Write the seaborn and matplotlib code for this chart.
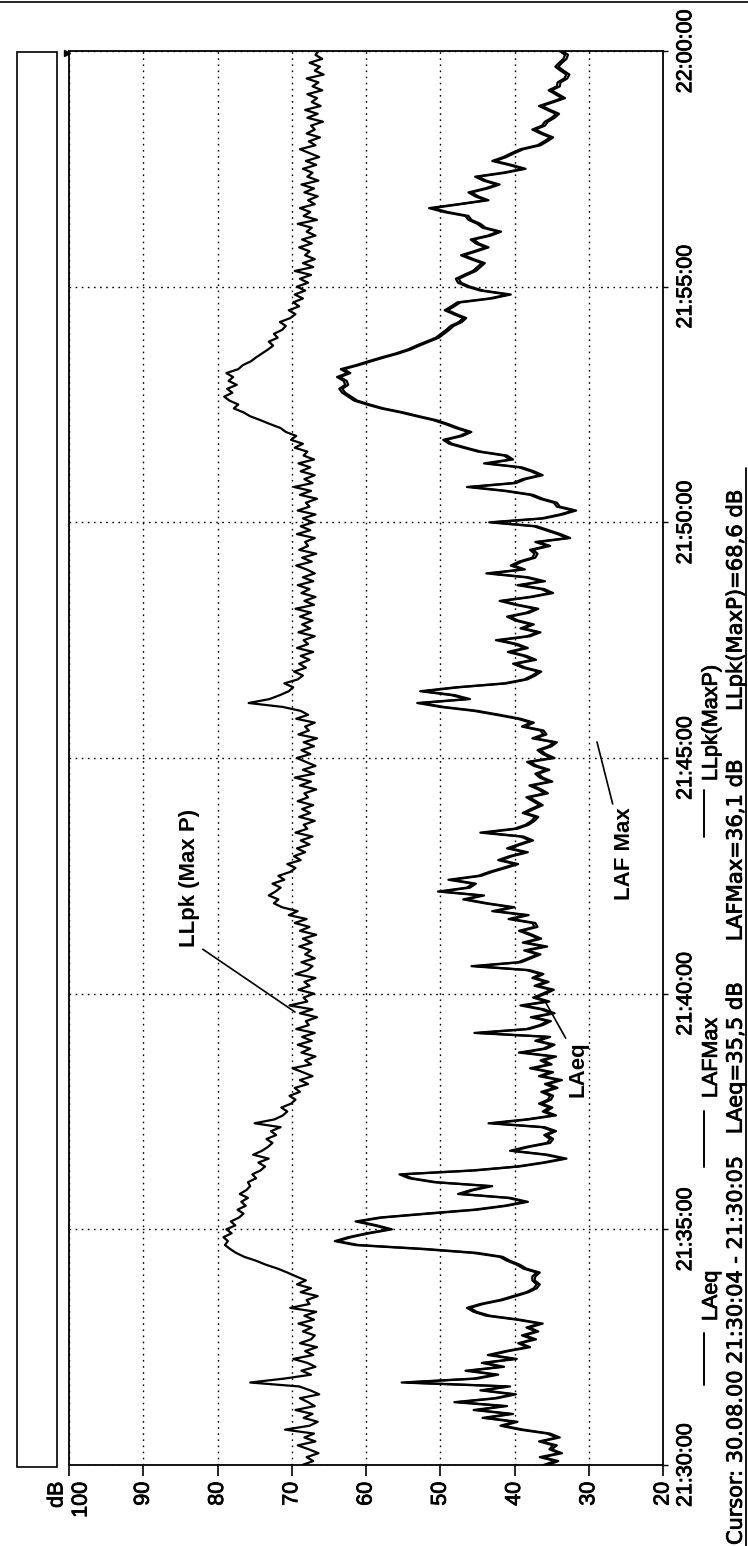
import numpy as np
import pandas as pd
import matplotlib
matplotlib.use("Agg")
import matplotlib.pyplot as plt
import matplotlib.patheffects as pe
from matplotlib.lines import Line2D
from matplotlib.patches import Rectangle
import seaborn as sns

# ---- data: 5-second samples from 21:30:00 to 22:00:00 (dB), one row per minute ----
seconds = list(range(0, 1801, 5))

llpk = [
    68.6, 67.1, 68.0, 66.4, 67.7, 69.2, 66.8, 68.3, 67.0, 70.9, 67.6, 66.5,
    68.4, 67.2, 69.5, 66.9, 67.8, 68.9, 66.3, 67.5, 69.0, 75.6, 71.0, 67.4,
    68.7, 66.8, 67.9, 69.8, 67.1, 68.2, 66.6, 68.9, 67.4, 66.9, 68.5, 67.3,
    69.1, 67.0, 68.3, 66.7, 70.2, 67.6, 68.0, 66.5, 68.8, 67.4, 69.3, 68.1,
    69.4, 70.6, 71.9, 73.5, 74.8, 76.4, 77.5, 78.3, 79.0, 78.6, 79.2, 78.1,
    78.8, 77.6, 78.2, 77.1, 76.5, 77.3, 76.2, 76.8, 75.9, 77.0, 76.1, 75.6,
    75.9, 74.8, 75.3, 74.2, 73.6, 74.5, 73.1, 75.2, 74.0, 73.2, 72.6, 73.4,
    72.1, 72.8, 71.5, 75.0, 72.3, 71.2, 70.6, 71.4, 70.1, 69.5, 70.3, 68.9,
    69.6, 67.8, 68.9, 67.2, 68.5, 69.9, 67.4, 68.2, 66.8, 68.7, 67.5, 69.2,
    67.3, 68.6, 66.9, 69.4, 67.7, 68.1, 66.6, 68.9, 67.2, 70.3, 67.9, 68.4,
    67.0, 69.1, 67.6, 68.3, 66.8, 69.5, 67.9, 67.2, 68.7, 66.9, 68.2, 67.4,
    69.0, 67.3, 68.5, 66.7, 68.9, 67.6, 69.6, 68.0, 70.4, 69.2, 71.3, 72.4,
    71.8, 73.1, 72.2, 71.5, 72.6, 71.0, 71.8, 70.2, 69.5, 70.6, 68.8, 69.7,
    68.2, 69.3, 67.6, 68.8, 67.2, 69.5, 67.9, 68.4, 66.9, 69.0, 67.5, 68.6,
    67.1, 69.2, 67.8, 68.3, 66.7, 68.9, 67.4, 69.6, 67.0, 68.5, 66.8, 68.1,
    69.3, 67.5, 68.7, 67.0, 68.4, 66.6, 69.1, 67.7, 68.2, 66.9, 69.4, 67.8,
    68.8, 71.2, 75.8, 73.0, 71.6, 70.4, 69.8, 71.0, 69.2, 68.5, 69.7, 68.1,
    69.0, 67.6, 68.8, 67.1, 69.3, 67.8, 68.4, 66.9, 69.1, 67.5, 68.6, 67.2,
    68.9, 67.4, 69.5, 67.0, 68.3, 66.8, 68.7, 67.6, 69.2, 67.1, 68.5, 66.9,
    68.0, 69.4, 67.3, 68.6, 66.7, 69.0, 67.8, 68.2, 66.9, 69.3, 67.5, 68.8,
    67.1, 68.5, 66.8, 69.2, 67.6, 68.1, 66.6, 68.9, 67.4, 69.7, 67.2, 68.3,
    66.9, 68.8, 67.5, 69.1, 67.0, 68.4, 67.9, 69.6, 68.5, 70.1, 69.4, 70.8,
    71.5, 72.9, 74.2, 75.6, 76.5, 77.8, 77.2, 78.4, 79.1, 78.0, 78.7, 77.4,
    78.5, 77.9, 78.8, 77.2, 76.6, 75.5, 74.8, 74.0, 73.2, 72.5, 73.1, 71.9,
    72.4, 71.3, 70.8, 71.6, 70.2, 69.5, 70.4, 69.0, 69.8, 68.5, 69.6, 68.2,
    69.3, 67.8, 68.9, 67.4, 69.6, 67.1, 68.5, 66.9, 68.2, 67.6, 69.0, 67.3,
    68.6, 66.8, 68.0, 67.3, 69.2, 66.6, 68.4, 67.5, 68.9, 66.9, 67.8, 66.5,
    68.3, 67.0, 68.7, 66.4, 67.9, 67.2, 68.5, 66.7, 68.1, 66.3, 67.6, 68.9,
    66.8, 67.7, 66.2, 68.0, 66.9, 67.4, 65.8, 67.9, 66.5, 68.2, 66.1, 67.3,
    66.6, 67.9, 65.9, 67.2, 66.4, 68.0, 65.7, 66.9, 66.2, 67.6, 65.9, 66.8,
    66.4,
]

laeq = [
    35.5, 34.1, 36.2, 33.6, 35.0, 34.3, 36.4, 33.9, 35.2, 38.8, 41.5, 39.6,
    43.8, 40.2, 45.1, 41.0, 47.6, 42.3, 39.8, 44.2, 40.6, 54.5, 45.0, 42.2,
    46.1, 41.4, 44.0, 39.7, 43.1, 40.8, 37.9, 39.2, 37.1, 38.6, 36.8, 38.0,
    36.2, 39.3, 43.3, 45.1, 46.0, 44.2, 41.6, 39.8, 38.1, 37.0, 36.6, 37.3,
    37.2, 36.6, 38.4, 39.3, 40.6, 41.6, 45.0, 52.0, 61.0, 63.8, 62.0, 59.5,
    56.5, 58.5, 61.0, 57.8, 51.5, 45.0, 41.0, 38.2, 40.5, 47.2, 45.5, 43.0,
    50.5, 53.8, 55.1, 45.2, 39.3, 35.8, 33.0, 35.5, 40.2, 38.0, 35.2, 34.8,
    35.6, 34.4, 35.9, 42.9, 38.0, 34.4, 35.8, 34.9, 36.3, 35.1, 34.8, 36.0,
    34.2, 35.5, 33.6, 36.3, 34.8, 37.5, 35.0, 36.1, 34.4, 38.9, 35.7, 34.6,
    36.8, 35.2, 44.8, 38.0, 36.2, 35.1, 37.4, 34.6, 36.0, 38.8, 35.3, 37.1,
    35.8, 34.7, 36.9, 35.4, 37.2, 36.1, 38.0, 45.2, 39.1, 37.8, 36.5, 38.3,
    35.6, 38.5, 36.4, 37.6, 39.0, 36.9, 37.2, 40.4, 38.1, 42.5, 40.0, 43.6,
    46.5, 44.1, 49.8, 46.0, 45.2, 48.4, 44.5, 43.0, 41.2, 39.5, 41.8, 40.3,
    38.2, 40.6, 39.1, 37.5, 38.8, 44.0, 39.6, 38.1, 37.3, 36.8, 38.5, 37.4,
    36.2, 37.1, 38.0, 35.5, 36.4, 37.6, 34.9, 36.2, 36.8, 35.3, 37.0, 37.9,
    34.6, 35.8, 36.5, 35.0, 34.3, 37.2, 35.7, 36.1, 38.6, 37.4, 39.2, 42.0,
    45.0, 49.5, 52.6, 46.0, 48.0, 52.2, 47.5, 41.0, 38.3, 37.2, 36.4, 38.5,
    39.8, 37.1, 38.4, 40.5, 38.2, 39.6, 42.0, 37.9, 36.5, 38.8, 37.4, 39.5,
    40.6, 38.0, 36.8, 39.5, 41.6, 37.6, 34.8, 36.0, 39.2, 35.9, 38.1, 43.3,
    38.6, 40.1, 39.0, 37.2, 36.9, 37.5, 35.2, 36.8, 32.5, 33.8, 35.4, 37.0,
    42.9, 36.0, 33.5, 31.7, 33.9, 34.3, 36.2, 37.5, 41.0, 45.9, 39.8, 38.5,
    36.2, 37.4, 39.0, 43.6, 40.2, 41.0, 44.5, 46.5, 48.4, 49.2, 47.0, 45.8,
    47.5, 48.9, 50.5, 52.8, 55.0, 57.6, 59.5, 61.2, 62.0, 62.8, 63.2, 62.4,
    62.6, 63.5, 62.1, 63.0, 61.0, 59.3, 57.5, 55.6, 54.0, 52.8, 51.5, 50.2,
    49.5, 48.8, 48.2, 47.1, 46.5, 47.8, 49.0, 48.1, 47.3, 43.0, 40.5, 44.2,
    46.0, 47.2, 47.5, 46.4, 45.2, 44.6, 44.0, 45.5, 46.8, 45.1, 43.5, 44.8,
    45.5, 43.2, 41.8, 43.9, 44.6, 45.8, 46.2, 49.0, 51.0, 47.2, 43.5, 44.9,
    45.8, 43.6, 42.0, 43.8, 44.9, 41.2, 38.5, 40.4, 42.6, 41.1, 40.0, 38.8,
    36.5, 35.6, 34.8, 36.1, 37.2, 35.9, 35.5, 34.6, 34.0, 35.2, 36.3, 34.7,
    33.2, 34.1, 35.0, 33.9, 33.8, 32.9, 32.6, 33.4, 34.1, 33.6, 33.0, 32.8,
    33.5,
]

lafmax = [
    36.1, 34.5, 36.6, 34.0, 35.3, 34.8, 36.7, 34.3, 35.6, 39.3, 41.9, 40.0,
    44.3, 40.6, 45.5, 41.4, 48.1, 42.7, 40.2, 44.6, 41.0, 55.2, 45.5, 42.6,
    46.6, 41.8, 44.4, 40.1, 43.6, 41.2, 38.3, 39.5, 37.5, 39.0, 37.1, 38.4,
    36.6, 39.7, 43.8, 45.5, 46.4, 44.6, 42.0, 40.2, 38.4, 37.4, 37.0, 37.6,
    37.6, 37.0, 38.8, 39.7, 41.0, 42.0, 45.6, 52.6, 61.5, 64.2, 62.4, 59.9,
    56.9, 58.9, 61.4, 58.2, 52.0, 45.5, 41.4, 38.6, 40.9, 47.6, 45.9, 43.4,
    50.9, 54.2, 55.5, 45.7, 39.7, 36.2, 33.4, 35.9, 40.6, 38.4, 35.6, 35.2,
    36.0, 34.8, 36.3, 43.5, 38.4, 34.8, 36.2, 35.3, 36.7, 35.5, 35.2, 36.4,
    34.6, 35.9, 34.0, 36.7, 35.2, 37.9, 35.4, 36.5, 34.8, 39.4, 36.1, 35.0,
    37.2, 35.6, 45.4, 38.4, 36.6, 35.5, 37.8, 35.0, 36.4, 39.2, 35.7, 37.5,
    36.2, 35.1, 37.3, 35.8, 37.6, 36.5, 38.4, 45.8, 39.5, 38.2, 36.9, 38.7,
    36.0, 38.9, 36.8, 38.0, 39.4, 37.3, 37.6, 40.8, 38.5, 43.0, 40.4, 44.0,
    46.9, 44.5, 50.3, 46.4, 45.6, 48.9, 44.9, 43.4, 41.6, 39.9, 42.2, 40.7,
    38.6, 41.0, 39.5, 37.9, 39.2, 44.6, 40.0, 38.5, 37.7, 37.2, 38.9, 37.8,
    36.6, 37.5, 38.4, 35.9, 36.8, 38.0, 35.3, 36.6, 37.2, 35.7, 37.4, 38.3,
    35.0, 36.2, 36.9, 35.4, 34.7, 37.6, 36.1, 36.5, 39.0, 37.8, 39.6, 42.5,
    45.5, 50.0, 53.1, 46.4, 48.5, 52.7, 47.9, 41.4, 38.7, 37.6, 36.8, 38.9,
    40.2, 37.5, 38.8, 40.9, 38.6, 40.0, 42.5, 38.3, 36.9, 39.2, 37.8, 39.9,
    41.0, 38.4, 37.2, 39.9, 42.0, 38.0, 35.2, 36.4, 39.6, 36.3, 38.5, 43.8,
    39.0, 40.5, 39.4, 37.6, 37.3, 37.9, 35.6, 37.2, 32.9, 34.2, 35.8, 37.4,
    43.4, 36.4, 33.9, 32.1, 34.3, 34.7, 36.6, 37.9, 41.4, 46.4, 40.2, 38.9,
    36.6, 37.8, 39.4, 44.1, 40.6, 41.4, 44.9, 46.9, 48.8, 49.6, 47.4, 46.2,
    47.9, 49.3, 50.9, 53.2, 55.4, 58.0, 59.9, 61.6, 62.4, 63.2, 63.6, 62.8,
    63.0, 63.9, 62.5, 63.4, 61.4, 59.7, 57.9, 56.0, 54.4, 53.2, 51.9, 50.6,
    49.9, 49.2, 48.6, 47.5, 46.9, 48.2, 49.4, 48.5, 47.7, 43.4, 40.9, 44.6,
    46.4, 47.6, 47.9, 46.8, 45.6, 45.0, 44.4, 45.9, 47.2, 45.5, 43.9, 45.2,
    45.9, 43.6, 42.2, 44.3, 45.0, 46.2, 46.6, 49.5, 51.5, 47.6, 43.9, 45.3,
    46.2, 44.0, 42.4, 44.2, 45.3, 41.6, 38.9, 40.8, 43.0, 41.5, 40.4, 39.2,
    36.9, 36.0, 35.2, 36.5, 37.6, 36.3, 35.9, 35.0, 34.4, 35.6, 36.7, 35.1,
    33.6, 34.5, 35.4, 34.3, 34.2, 33.3, 33.0, 33.8, 34.5, 34.0, 33.4, 33.2,
    33.9,
]

db_ticks = [100, 90, 80, 70, 60, 50, 40, 30, 20]
db_labels = ["dB\n100", "90", "80", "70", "60", "50", "40", "30", "20"]
time_ticks = [0, 300, 600, 900, 1200, 1500, 1800]
time_labels = ["21:30:00", "21:35:00", "21:40:00", "21:45:00",
               "21:50:00", "21:55:00", "22:00:00"]
series_names = ["LAeq", "LAFMax", "LLpk(MaxP)"]
cursor_parts = ["Cursor: 30.08.00 21:30:04 - 21:30:05",
                "LAeq=35,5 dB", "LAFMax=36,1 dB", "LLpk(MaxP)=68,6 dB"]

# ---- build long table ----
df = pd.DataFrame({"sec": seconds, "LAeq": laeq, "LAFMax": lafmax,
                   "LLpk(MaxP)": llpk})
long = df.melt(id_vars="sec", var_name="series", value_name="dB")

sns.set_theme(style="white")
plt.rcParams["font.family"] = ["Liberation Sans", "DejaVu Sans"]

W, H = 748, 1546
fig = plt.figure(figsize=(W / 100, H / 100), dpi=100)
fig.patch.set_facecolor("white")

def fx(px):
    return px / W

def fy(py):
    return 1 - py / H

ink = [pe.withStroke(linewidth=0.6, foreground="black")]

ax_l, ax_r, ax_t, ax_b = 69, 663, 51, 1465
ax = fig.add_axes([fx(ax_l), fy(ax_b), fx(ax_r - ax_l), (ax_b - ax_t) / H])

sns.lineplot(data=long, x="dB", y="sec", hue="series", hue_order=series_names,
             palette=["black"] * 3, orient="y", sort=False, estimator=None,
             legend=False, linewidth=1.6, ax=ax)

ax.set_xlim(100, 20)
ax.set_ylim(0, 1800)
ax.set_xlabel("")
ax.set_ylabel("")

ax.set_xticks(db_ticks)
ax.set_xticklabels(db_labels, rotation=90, va="top", ha="center",
                   multialignment="right", fontsize=15.5)
ax.yaxis.tick_right()
ax.set_yticks(time_ticks)
ax.set_yticklabels(time_labels, rotation=90, va="center", ha="left",
                   fontsize=15.5)
ax.tick_params(axis="x", direction="out", length=8, width=1.2, pad=4,
               colors="black", bottom=True)
ax.tick_params(axis="y", direction="out", length=3.6, width=1.0, pad=5.2,
               colors="black", right=True, left=False)
for t in ax.get_xticklabels() + ax.get_yticklabels():
    t.set_path_effects(ink)

ax.grid(True, color="black", linestyle=(0, (1.2, 3.2)), linewidth=1.0)
for sp in ax.spines.values():
    sp.set_color("black")
    sp.set_linewidth(1.3)
    sp.set_visible(True)

# ---- callouts inside the plot ----
px_per_db = (ax_r - ax_l) / 80.0

def to_db(px):
    return 100 - (px - ax_l) / px_per_db

def to_sec(py):
    return (ax_b - py) / (ax_b - ax_t) * 1800

label_kw = dict(rotation=90, fontsize=16, fontweight="bold", color="black")
ax.annotate("LLpk (Max P)", xy=(to_db(295), to_sec(1012)),
            xytext=(to_db(189), to_sec(947)), ha="center", va="bottom",
            arrowprops=dict(arrowstyle="-", color="black", lw=1.2,
                            shrinkA=0, shrinkB=0,
                            relpos=(1.0, 0.0)), **label_kw)
ax.annotate("LAeq", xy=(to_db(546), to_sec(1003)),
            xytext=(to_db(578), to_sec(1097)), ha="center", va="bottom",
            arrowprops=dict(arrowstyle="-", color="black", lw=1.2,
                            shrinkA=0, shrinkB=0,
                            relpos=(0.0, 1.0)), **label_kw)
ax.annotate("LAF Max", xy=(to_db(597), to_sec(742)),
            xytext=(to_db(624), to_sec(900)), ha="center", va="bottom",
            arrowprops=dict(arrowstyle="-", color="black", lw=1.2,
                            shrinkA=0, shrinkB=0,
                            relpos=(0.0, 1.0)), **label_kw)

# ---- frame pieces around the plot ----
fig.add_artist(Line2D([0, 1], [fy(1.5), fy(1.5)], color="black", lw=1.2,
                      transform=fig.transFigure))
fig.add_artist(Rectangle((fx(17), fy(1467)), fx(40), (1467 - 52) / H,
                         fill=False, edgecolor="black", lw=1.2,
                         transform=fig.transFigure))
fig.add_artist(Line2D([fx(67)], [fy(53)], marker=">", ms=5, color="black",
                      transform=fig.transFigure))

# ---- legend column ----
legend_pos = {"LAeq": (1385, 1333, 1321),
              "LAFMax": (1167, 1111, 1098),
              "LLpk(MaxP)": (837, 790, 781)}
for name in series_names:
    y0, y1, ytxt = legend_pos[name]
    fig.add_artist(Line2D([fx(704), fx(704)], [fy(y0), fy(y1)],
                          color="black", lw=1.4, transform=fig.transFigure))
    fig.text(fx(711.4), fy(ytxt), name, rotation=90, ha="center",
             va="bottom", fontsize=15.5, color="black", path_effects=ink)

# ---- cursor readout, underlined ----
cursor_pos = [(1545, "bottom", 15.0), (1058, "center", 15.2),
              (850, "center", 15.2), (600, "center", 15.2)]
for text, (py, anchor, size) in zip(cursor_parts, cursor_pos):
    fig.text(fx(735.7), fy(py), text, rotation=90, ha="center", va=anchor,
             fontsize=size, family="DejaVu Sans", color="black",
             path_effects=ink)
fig.add_artist(Line2D([fx(745.5), fx(745.5)], [fy(1546), fy(468)],
                      color="black", lw=1.3, transform=fig.transFigure))

fig.savefig("out.png", dpi=100, facecolor="white")
